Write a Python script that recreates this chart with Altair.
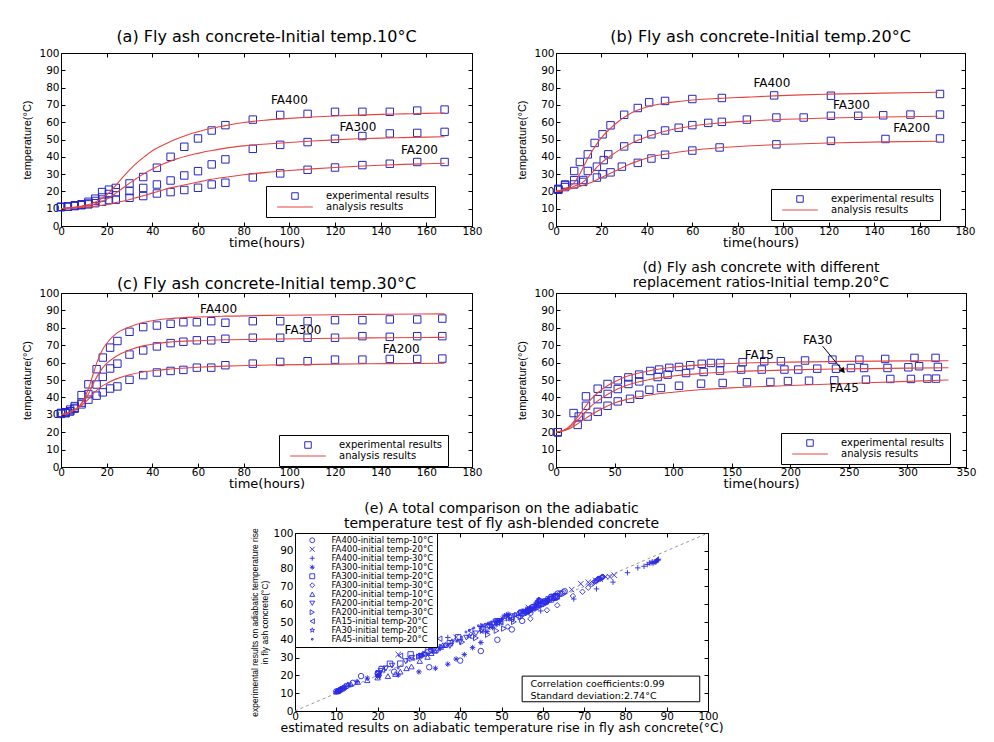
import altair as alt
import pandas as pd

BLUE = "#2626c4"
EBLUE = "#2b2be6"
RED = "#e5443e"
SANS = "DejaVu Sans"
NARROW = "Liberation Sans Narrow, Liberation Sans, sans-serif"

# ---------------- panel (a): initial temp 10 C ----------------
a_t = [0, 3, 6, 9, 12, 15, 18, 21, 24, 30, 36, 42, 48, 54, 60, 66, 72, 84, 96, 108, 120, 132, 144, 156, 168]
a_fa400 = [11, 11.3, 12, 12.6, 14, 15.8, 19.6, 21, 22, 24.6, 28.3, 33.7, 40, 45.8, 50.6, 55.2, 58.3, 61.5, 64.2, 64.8, 66, 66, 66, 66.7, 67.3]
a_fa300 = [11, 11.2, 11.8, 12.3, 13, 14.5, 16.5, 18.5, 19.5, 20.2, 22, 24, 26.3, 29.2, 31.7, 35.6, 38.5, 44.6, 46.9, 48.5, 50.4, 52, 53.5, 53.8, 54.4]
a_fa200 = [11, 11.1, 11.5, 12, 12.5, 13.2, 14, 15, 15.2, 16.3, 17.3, 18.8, 19.6, 20.8, 22.1, 24, 25, 28.1, 30.4, 32.5, 33.8, 35.2, 36, 37, 37]
ac_t = [0, 5, 10, 15, 20, 22, 24, 28, 32, 36, 40, 45, 50, 55, 60, 66, 72, 80, 90, 100, 110, 120, 130, 140, 150, 160, 168]
ac_fa400 = [10, 10.8, 11.8, 13.8, 18, 20.5, 23.5, 29.5, 35, 39.5, 43.5, 47, 50, 52.5, 54.5, 56.5, 58, 59.8, 61.2, 62.2, 63, 63.6, 64.1, 64.5, 64.8, 65.1, 65.3]
ac_fa300 = [10, 10.6, 11.4, 12.8, 15.5, 17, 19, 22.8, 26.5, 30, 33, 36, 38.5, 40.5, 42, 43.6, 45, 46.3, 47.4, 48.3, 49.1, 49.8, 50.4, 50.8, 51.1, 51.4, 51.6]
ac_fa200 = [10, 10.4, 10.8, 11.4, 12.4, 12.9, 13.5, 14.6, 16, 17.5, 19, 21, 22.6, 24, 25.4, 27, 28.2, 29.6, 31, 32.1, 33, 33.8, 34.5, 35.1, 35.6, 36, 36.3]
a_lab_text = ["FA400", "FA300", "FA200"]
a_lab_t = [100, 130, 157]
a_lab_T = [72.7, 57.3, 43.8]

# ---------------- panel (b): initial temp 20 C ----------------
b_t400 = [1, 4, 8, 10.5, 14, 17, 20.5, 24, 30, 36, 41, 48, 60, 73, 96, 121, 169]
b_fa400 = [21.5, 24, 31.8, 37, 41.4, 48, 53, 58.2, 64.3, 68.2, 71.5, 72.3, 73.4, 74, 75.5, 75.3, 76.3]
b_t300 = [1, 4, 8, 12, 14, 18, 21, 23, 30, 36, 42, 48, 54, 60, 67, 73, 84, 97, 109, 121, 133, 144, 156, 169]
b_fa300 = [21, 23.5, 26.5, 26.6, 31.8, 34.3, 38.1, 41.4, 46, 50.4, 53, 55.2, 56.8, 58.3, 59.6, 60.2, 61.5, 62.7, 62.7, 63.7, 63.7, 64, 64.4, 64.4]
b_t200 = [1, 4, 8, 12, 18, 20.5, 24, 29, 36, 42, 48, 60, 72, 97, 121, 145, 169]
b_fa200 = [21, 22.5, 24, 25.5, 28, 29.9, 31, 34.3, 36.5, 39, 41.2, 43.6, 45.4, 47.2, 49.2, 50.3, 50.6]
bc_t400 = [0, 4, 8, 10, 12, 14, 16, 18, 20, 24, 28, 32, 36, 42, 48, 54, 60, 72, 84, 96, 108, 120, 144, 168]
bc_fa400 = [20, 21.5, 25, 29, 34, 39, 43.5, 47.5, 51, 56.5, 61, 64.5, 67, 69.5, 71, 72, 72.8, 73.8, 74.5, 75.2, 75.8, 76.2, 76.8, 77.3]
bc_t300 = [0, 4, 8, 12, 14, 16, 18, 20, 24, 28, 32, 36, 42, 48, 54, 60, 72, 84, 96, 120, 144, 168]
bc_fa300 = [20, 21, 23, 25.5, 28, 31, 34, 36.5, 40.5, 44, 47, 49.5, 52.5, 54.8, 56.5, 57.8, 59.5, 60.6, 61.4, 62.4, 63, 63.4]
bc_t200 = [0, 4, 8, 12, 16, 20, 24, 28, 32, 36, 42, 48, 54, 60, 72, 84, 96, 120, 144, 168]
bc_fa200 = [20, 20.8, 22, 23.5, 25.5, 28, 30.5, 33, 35.5, 37.5, 40, 41.5, 42.8, 43.8, 45.2, 46.2, 47, 48, 48.6, 49]
b_lab_text = ["FA400", "FA300", "FA200"]
b_lab_t = [95, 130, 156.5]
b_lab_T = [82.6, 70.2, 56.4]

# ---------------- panel (c): initial temp 30 C ----------------
c_t = [0, 2, 4, 6, 9, 12, 15.6, 18.3, 21.5, 24.7, 30, 36, 42, 48, 53.6, 59.5, 65.8, 72, 84, 96, 108, 120, 132, 144, 156, 167]
c_fa400 = [31, 31.5, 33, 35, 41.3, 47.5, 56.2, 62.9, 68.6, 72.4, 77.7, 80.4, 81.3, 82.3, 83.2, 83.2, 83.8, 82.9, 83.8, 83.8, 83.8, 84.4, 84.4, 84.8, 84.8, 85.3]
c_fa300 = [31, 31, 32, 34, 37, 41.9, 47.4, 51.8, 56.6, 59.4, 64.6, 67, 69.3, 71.2, 72, 72.8, 72.8, 73.7, 74.3, 74.3, 74.3, 74.3, 75.2, 74.8, 75.2, 75.2]
c_fa200 = [30.5, 31, 32, 33.5, 36, 38.7, 41, 42.9, 45.1, 46.3, 50.1, 52.8, 54.3, 55.2, 55.8, 57.1, 57.1, 58.5, 59.4, 60.4, 60.8, 61.7, 61.7, 62.1, 62.1, 62.3]
cc_t = [0, 4, 8, 10, 12, 14, 16, 18, 20, 24, 30, 36, 42, 48, 60, 72, 96, 120, 144, 168]
cc_fa400 = [30, 31.5, 35, 39, 45, 53, 61, 67, 71, 76.5, 80.5, 83, 84.5, 85.3, 86.2, 86.7, 87.2, 87.5, 87.8, 88]
cc_fa300 = [30, 31.5, 35, 38, 42, 47.5, 52.5, 56.5, 59.5, 63.5, 67.3, 69.6, 71, 71.8, 72.6, 73.1, 73.6, 74, 74.3, 74.5]
cc_fa200 = [30, 31.5, 34.5, 36.5, 39, 42, 44.5, 46.5, 48, 50.5, 53, 54.6, 55.6, 56.3, 57.3, 58, 58.7, 59.1, 59.4, 59.6]
c_lab_text = ["FA400", "FA300", "FA200"]
c_lab_t = [69, 106, 149]
c_lab_T = [90.9, 78.5, 67.6]

# ---------------- panel (d): replacement ratios, initial temp 20 C ----------------
d_t15 = [1.5, 15, 25.6, 35.6, 44, 52.7, 61.8, 71, 80.5, 88, 96.7, 105, 114.6, 124.4, 132.3, 140.3, 159.3, 177.8, 192, 212.6, 236, 259, 281, 306, 324]
d_fa15 = [20, 31, 40.6, 45, 47.7, 49.8, 51.5, 53.1, 55.2, 56, 57, 57.5, 58.5, 59.3, 59.8, 59.8, 60.2, 60.8, 60.8, 61.2, 61.7, 61.7, 62.1, 62.7, 62.7]
d_t30 = [1.5, 19.4, 25.6, 35.6, 44.1, 52.7, 61.8, 71.1, 86.8, 95.3, 111, 126, 140, 158, 175.6, 195, 206.8, 223, 239, 251.8, 263, 283, 300.8, 310, 326]
d_fa30 = [20, 29, 35.2, 39, 42, 44.8, 47.7, 49.2, 51.7, 53.1, 54, 54.6, 55.4, 56, 56, 56, 56, 56.5, 56.5, 56.9, 56.9, 56.9, 57.3, 57.9, 57.5]
d_t45 = [1.5, 18.5, 27, 35.6, 44, 52.7, 63.2, 71.1, 79.7, 89.6, 105, 123.8, 142.3, 163, 183, 198, 216, 237.6, 264.6, 285.4, 303, 317, 324.4]
d_fa45 = [20, 24.2, 29, 31.7, 35.2, 37.7, 39.2, 41.5, 44.4, 45.4, 46.7, 47.9, 48.3, 48.7, 48.9, 49.4, 49.6, 49.8, 50.2, 50.6, 50.6, 50.8, 50.8]
dc_t = [0, 10, 20, 30, 40, 50, 60, 80, 100, 125, 150, 200, 250, 300, 335]
dc_fa15 = [20, 22.5, 30, 39, 45, 49, 52, 55.3, 57.3, 58.7, 59.5, 60.3, 60.7, 61, 61.1]
dc_fa30 = [20, 22, 28, 35, 40, 44, 46.8, 50.3, 52.3, 53.8, 54.7, 55.8, 56.4, 56.8, 57]
dc_fa45 = [20, 21.5, 25.5, 30, 33.8, 36.8, 38.8, 41.4, 43, 44.5, 45.5, 46.8, 48, 49.2, 50]
d_lab_text = ["FA15", "FA30", "FA45"]
d_lab_t = [173.6, 223.4, 246]
d_lab_T = [64.6, 72.9, 45.4]
d_arrow_t = [227.7, 245]
d_arrow_T = [69.4, 55.2]

# ---------------- panel (e): estimated vs experimental ----------------
e_names = ["FA400-initial temp-10°C", "FA400-initial temp-20°C", "FA400-initial temp-30°C",
           "FA300-initial temp-10°C", "FA300-initial temp-20°C", "FA300-initial temp-30°C",
           "FA200-initial temp-10°C", "FA200-initial temp-20°C", "FA200-initial temp-30°C",
           "FA15-initial temp-20°C", "FA30-initial temp-20°C", "FA45-initial temp-20°C"]
e_est_fa400_10 = [10, 10.5, 11, 11.7, 12.5, 14, 16, 20, 24, 32.5, 40, 45, 49, 52.5, 55, 57, 58.5, 60.5, 62, 63, 63.6, 64.2, 64.6, 65, 65.3]
e_est_fa400_20 = [20.3, 21.5, 25, 30, 39, 45.5, 51.7, 56.5, 62.8, 67, 69.2, 71, 72.8, 73.9, 75.2, 76.2, 77.3]
e_est_fa400_30 = [30, 30.7, 31.5, 33, 37, 45, 59.5, 67.5, 73, 77, 80.5, 83, 84.5, 85.3, 85.8, 86.2, 86.5, 86.7, 87, 87.2, 87.4, 87.5, 87.6, 87.8, 87.9, 88]
e_est_fa300_10 = [10, 10.5, 11, 11.3, 12, 13, 15, 17.5, 20, 25, 30, 34, 37, 39, 41, 43, 45, 46.5, 47.8, 48.7, 49.5, 50.2, 50.7, 51.2, 51.6]
e_est_fa300_20 = [20.2, 21, 23, 25.5, 28, 34, 37.5, 39.5, 45.5, 49.5, 52.5, 54.8, 56.5, 57.8, 58.8, 59.6, 60.6, 61.4, 62, 62.4, 62.8, 63, 63.2, 63.4]
e_est_fa300_30 = [30, 30.7, 31.5, 33, 36.5, 43, 51.5, 57, 61, 63.5, 67.3, 69.6, 71, 71.8, 72.2, 72.6, 72.9, 73.1, 73.4, 73.6, 73.8, 74, 74.2, 74.3, 74.4, 74.5]
e_est_fa200_10 = [10, 10.3, 10.5, 10.8, 11, 11.5, 12, 12.8, 13.5, 15.2, 17.5, 20, 22.5, 24.3, 25.5, 27, 28.2, 30.2, 32.1, 33, 33.8, 34.6, 35.3, 35.8, 36.3]
e_est_fa200_20 = [20.2, 20.8, 22, 23.5, 26.8, 28.3, 30.5, 33.6, 37.5, 40, 41.5, 43.8, 45.2, 47, 48, 48.6, 49]
e_est_fa200_30 = [30, 30.7, 31.5, 33, 35.5, 40.5, 43.8, 46.7, 48.8, 50.6, 53, 54.6, 55.6, 56.3, 56.8, 57.3, 57.6, 58, 58.4, 58.7, 58.9, 59.1, 59.3, 59.4, 59.5, 59.6]
e_est_fa15 = [20.1, 25.5, 35, 42.5, 46.5, 49.8, 52.3, 54, 55.4, 56.2, 57, 57.6, 58.2, 58.7, 59, 59.2, 59.7, 60, 60.2, 60.4, 60.6, 60.8, 60.9, 61, 61.1]
e_est_fa30 = [20.1, 27.5, 32, 38, 42.2, 45.2, 47.5, 49.2, 51.5, 52.1, 53.2, 54, 54.5, 55, 55.4, 55.8, 56, 56.2, 56.4, 56.5, 56.6, 56.8, 56.8, 56.9, 57]
e_est_fa45 = [20.1, 25, 28.8, 32.2, 35.1, 37.3, 39.2, 40.3, 41.4, 42.2, 43.3, 44.4, 45.3, 46, 46.6, 46.8, 47.2, 47.7, 48.3, 48.8, 49.2, 49.6, 49.8]
e_shapes = ["circle", "M-1,-1L1,1M-1,1L1,-1", "M-1,0L1,0M0,-1L0,1",
            "M-1,0L1,0M0,-1L0,1M-0.7,-0.7L0.7,0.7M-0.7,0.7L0.7,-0.7", "square", "diamond",
            "triangle-up", "triangle-down", "triangle-right", "triangle-left",
            "M0,-1L0.235,-0.324L0.951,-0.309L0.38,0.124L0.588,0.809L0,0.4L-0.588,0.809L-0.38,0.124L-0.951,-0.309L-0.235,-0.324Z",
            "M-0.3,-0.3L0.3,-0.3L0.3,0.3L-0.3,0.3Z"]
diag = [0, 100]
stats_text = ["Correlation coefficients:0.99", "Standard deviation:2.74°C"]
stats_x = [57, 57]
stats_y = [15.2, 8.4]
box_x = [55, 98]
box_y = [5.2, 19.6]

KINDS = ["experimental results", "analysis results"]


def long_df(parts, xname="t", yname="T"):
    frames = [pd.DataFrame({xname: x, yname: y, "series": n}) for n, x, y in parts]
    return pd.concat(frames, ignore_index=True)


def axis_main(orient, title, values, tfont, tsize, tpad, lpad):
    return alt.Axis(orient=orient, title=title, values=values, offset=-4, tickSize=4,
                    domain=False, grid=False, labelPadding=lpad, labelFlush=False,
                    labelOverlap=False, labelFont=SANS, labelFontSize=10.5,
                    labelColor="black", tickColor="black", tickWidth=1,
                    titleFont=tfont, titleFontSize=tsize, titleFontWeight="normal",
                    titleColor="black", titlePadding=tpad, titleLineHeight=tsize + 2)


def axis_ticks(orient, values):
    return alt.Axis(orient=orient, title=None, labels=False, values=values, offset=-4,
                    tickSize=4, domain=False, grid=False, tickColor="black", tickWidth=1)


def panel(key, exp_parts, curve_parts, labels, xmax, xstep, title, toff, tsize, tlh, lx, ly, width, height, extras=()):
    xs = alt.Scale(domain=[0, xmax], nice=False, zero=False)
    ys = alt.Scale(domain=[0, 100], nice=False)
    xv = list(range(0, xmax + 1, xstep))
    yv = list(range(0, 101, 10))
    kf = "kind_" + key
    exp_df = long_df(exp_parts)
    exp_df[kf] = KINDS[0]
    curve_df = long_df(curve_parts)
    lab_df = pd.DataFrame({"t": labels[1], "T": labels[2], "label": labels[0]})
    leg = alt.Legend(title=None, orient="none", legendX=lx, legendY=ly, fillColor="white",
                     strokeColor="black", padding=5, labelFont=SANS, labelFontSize=10,
                     labelColor="black", symbolSize=42, symbolStrokeWidth=1,
                     symbolOffset=19, labelOffset=26, rowPadding=0, labelLimit=300)
    pts = alt.Chart(exp_df).mark_point(filled=False, size=55, strokeWidth=1, opacity=1).encode(
        x=alt.X("t:Q", scale=xs, axis=axis_main("bottom", "time(hours)", xv, SANS, 13, 0, 0)),
        y=alt.Y("T:Q", scale=ys, axis=axis_main("left", "temperature(°C)", yv, NARROW, 11, 6, 2)),
        color=alt.Color(kf + ":N", scale=alt.Scale(domain=KINDS, range=[BLUE, RED]), legend=leg),
        shape=alt.Shape(kf + ":N", scale=alt.Scale(domain=KINDS, range=["square", "M-5.5,0L5.5,0"]), legend=leg),
    )
    lines = alt.Chart(curve_df).mark_line(color=RED, strokeWidth=1.1, interpolate="monotone").encode(
        x=alt.X("t:Q", scale=xs, axis=axis_ticks("top", xv)),
        y=alt.Y("T:Q", scale=ys, axis=axis_ticks("right", yv)),
        detail="series:N",
    )
    txt = alt.Chart(lab_df).mark_text(font=SANS, fontSize=12, color="black").encode(
        x=alt.X("t:Q", scale=xs, axis=None), y=alt.Y("T:Q", scale=ys, axis=None), text="label:N")
    layers = [pts, lines, txt]
    for mk in extras:
        layers.append(mk(xs, ys))
    return alt.layer(*layers).resolve_axis(x="independent", y="independent").properties(
        width=width, height=height,
        title=alt.TitleParams(text=title, font=SANS, fontSize=tsize, fontWeight="normal",
                              offset=toff, lineHeight=tlh, color="black", anchor="middle",
                              frame="group"))


pa = panel("a", [("FA400", a_t, a_fa400), ("FA300", a_t, a_fa300), ("FA200", a_t, a_fa200)],
           [("FA400", ac_t, ac_fa400), ("FA300", ac_t, ac_fa300), ("FA200", ac_t, ac_fa200)],
           (a_lab_text, a_lab_t, a_lab_T), 180, 20,
           "(a) Fly ash concrete-Initial temp.10°C", 3, 16, 16, 205, 133, 411, 173)
pb = panel("b", [("FA400", b_t400, b_fa400), ("FA300", b_t300, b_fa300), ("FA200", b_t200, b_fa200)],
           [("FA400", bc_t400, bc_fa400), ("FA300", bc_t300, bc_fa300), ("FA200", bc_t200, bc_fa200)],
           (b_lab_text, b_lab_t, b_lab_T), 180, 20,
           "(b) Fly ash concrete-Initial temp.20°C", 3, 16, 16, 215, 136, 409, 173)
pc = panel("c", [("FA400", c_t, c_fa400), ("FA300", c_t, c_fa300), ("FA200", c_t, c_fa200)],
           [("FA400", cc_t, cc_fa400), ("FA300", cc_t, cc_fa300), ("FA200", cc_t, cc_fa200)],
           (c_lab_text, c_lab_t, c_lab_T), 180, 20,
           "(c) Fly ash concrete-Initial temp.30°C", -4, 16, 16, 218, 142, 411, 174)


def arrow_line(xs, ys):
    df = pd.DataFrame({"t": d_arrow_t, "T": d_arrow_T})
    return alt.Chart(df).mark_line(color="black", strokeWidth=1).encode(
        x=alt.X("t:Q", scale=xs, axis=None), y=alt.Y("T:Q", scale=ys, axis=None))


def arrow_head(xs, ys):
    df = pd.DataFrame({"t": d_arrow_t[-1:], "T": d_arrow_T[-1:]})
    return alt.Chart(df).mark_point(shape="triangle-up", filled=True, color="black", opacity=1,
                                    size=40, angle=139).encode(
        x=alt.X("t:Q", scale=xs, axis=None), y=alt.Y("T:Q", scale=ys, axis=None))


pd_ = panel("d", [("FA15", d_t15, d_fa15), ("FA30", d_t30, d_fa30), ("FA45", d_t45, d_fa45)],
            [("FA15", dc_t, dc_fa15), ("FA30", dc_t, dc_fa30), ("FA45", dc_t, dc_fa45)],
            (d_lab_text, d_lab_t, d_lab_T), 350, 50,
            ["(d) Fly ash concrete with different", "replacement ratios-Initial temp.20°C"], -2, 14, 15,
            225, 140, 410, 174, extras=(arrow_line, arrow_head))

# ---------------- panel (e) ----------------
e_parts = [
    (e_names[0], e_est_fa400_10, a_fa400), (e_names[1], e_est_fa400_20, b_fa400),
    (e_names[2], e_est_fa400_30, c_fa400), (e_names[3], e_est_fa300_10, a_fa300),
    (e_names[4], e_est_fa300_20, b_fa300), (e_names[5], e_est_fa300_30, c_fa300),
    (e_names[6], e_est_fa200_10, a_fa200), (e_names[7], e_est_fa200_20, b_fa200),
    (e_names[8], e_est_fa200_30, c_fa200), (e_names[9], e_est_fa15, d_fa15),
    (e_names[10], e_est_fa30, d_fa30), (e_names[11], e_est_fa45, d_fa45),
]
e_df = long_df(e_parts, "est", "exp").rename(columns={"series": "eseries"})
ev = list(range(0, 101, 10))
exs = alt.Scale(domain=[0, 100], nice=False)
eys = alt.Scale(domain=[0, 100], nice=False)

e_diag = alt.Chart(pd.DataFrame({"est": diag, "exp": diag})).mark_line(
    color="#8c8c8c", strokeWidth=0.9, strokeDash=[3, 3]).encode(
    x=alt.X("est:Q", scale=exs, axis=axis_ticks("top", ev)),
    y=alt.Y("exp:Q", scale=eys, axis=axis_ticks("right", ev)))
e_pts = alt.Chart(e_df).mark_point(filled=False, size=30, strokeWidth=0.9, opacity=1, color=EBLUE).encode(
    x=alt.X("est:Q", scale=exs,
            axis=axis_main("bottom", "estimated results on adiabatic temperature rise in fly ash concrete(°C)",
                           ev, SANS, 12.5, 0, 0)),
    y=alt.Y("exp:Q", scale=eys,
            axis=axis_main("left", ["experimental results on adiabatic temperature rise",
                                    "in fly ash concrete(°C)"], ev, NARROW, 8.5, 3, 2)),
    shape=alt.Shape("eseries:N", scale=alt.Scale(domain=e_names, range=e_shapes),
                    legend=alt.Legend(title=None, orient="top-left", offset=0, fillColor="white",
                                      strokeColor="black", padding=3, labelFont=SANS,
                                      labelFontSize=8.5, labelColor="black", symbolSize=24,
                                      symbolStrokeColor=EBLUE, symbolStrokeWidth=0.9,
                                      symbolFillColor="transparent", symbolOffset=10,
                                      labelOffset=15, rowPadding=-2, labelLimit=300)),
)
e_box = alt.Chart(pd.DataFrame({"x1": box_x[:1], "x2": box_x[1:], "y1": box_y[:1], "y2": box_y[1:]})).mark_rect(
    fill="white", stroke="black", strokeWidth=1).encode(
    x=alt.X("x1:Q", scale=exs, axis=None), x2="x2:Q",
    y=alt.Y("y1:Q", scale=eys, axis=None), y2="y2:Q")
e_txt = alt.Chart(pd.DataFrame({"est": stats_x, "exp": stats_y, "label": stats_text})).mark_text(
    font=SANS, fontSize=9.5, align="left", color="black").encode(
    x=alt.X("est:Q", scale=exs, axis=None), y=alt.Y("exp:Q", scale=eys, axis=None), text="label:N")

pe = alt.layer(e_diag, e_pts, e_box, e_txt).resolve_axis(x="independent", y="independent").properties(
    width=413, height=178,
    title=alt.TitleParams(text=["(e) A total comparison on the adiabatic",
                                "temperature test of fly ash-blended concrete"],
                          font=SANS, fontSize=14, fontWeight="normal", offset=-3, lineHeight=15,
                          color="black", anchor="middle", frame="group"))

spacer = alt.Chart(pd.DataFrame({"v": [0]})).mark_point(opacity=0).encode(
    x=alt.X("v:Q", axis=None), y=alt.Y("v:Q", axis=None)
).properties(width=188, height=10, view=alt.ViewBackground(strokeOpacity=0))

row1 = alt.hconcat(pa, pb, spacing=33).resolve_scale(color="independent", shape="independent")
row2 = alt.hconcat(pc, pd_, spacing=33).resolve_scale(color="independent", shape="independent")
row3 = alt.hconcat(spacer, pe, spacing=0).resolve_scale(color="independent", shape="independent")
top = alt.vconcat(row1, row2, spacing=10).resolve_scale(color="independent", shape="independent")
chart = alt.vconcat(top, row3, spacing=10).resolve_scale(
    color="independent", shape="independent"
).properties(
    padding={"left": 13, "top": 20, "right": 0, "bottom": 0}, background="white"
).configure_view(stroke="black", strokeWidth=1)

chart.save("out.html", embed_options={"renderer": "svg", "actions": False})
